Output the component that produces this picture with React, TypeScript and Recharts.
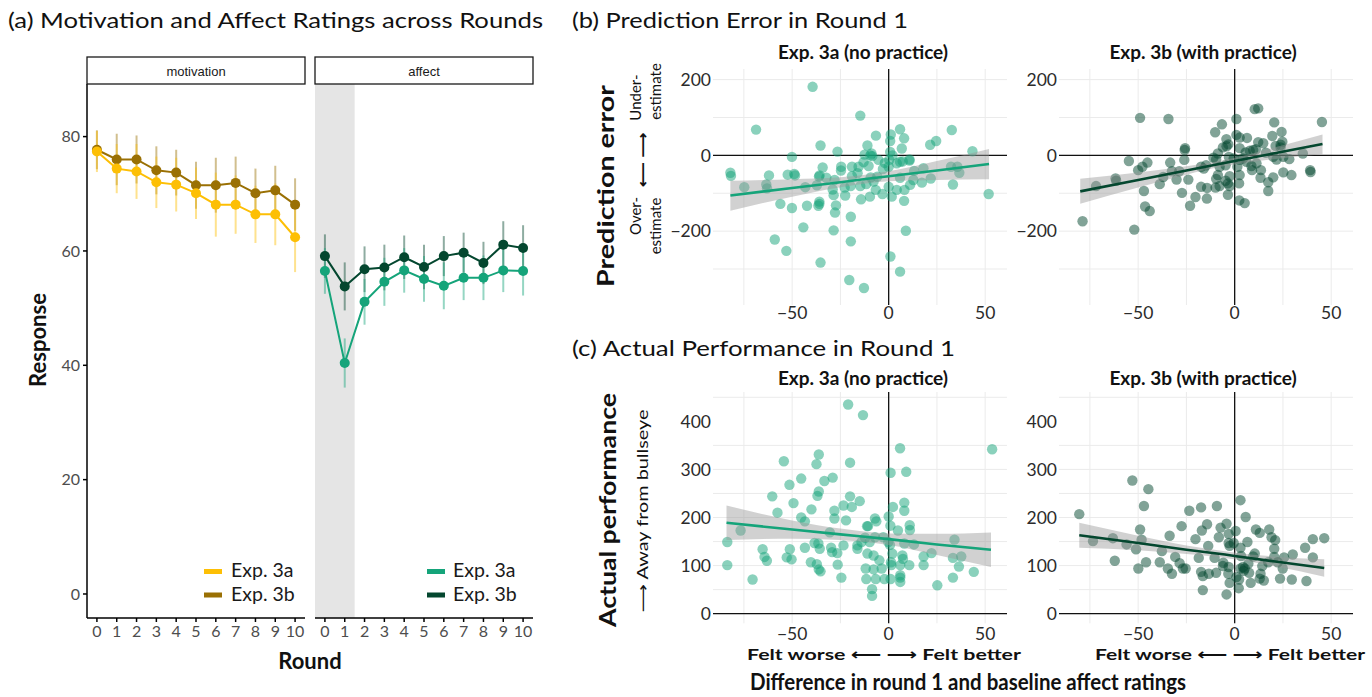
import React from "react";
import {
  ComposedChart,
  LineChart,
  Line,
  Scatter,
  Area,
  XAxis,
  YAxis,
  ErrorBar,
  CartesianGrid,
  ReferenceLine,
  ReferenceArea,
} from "recharts";

const FONT = "Lato, 'Open Sans', 'DejaVu Sans', sans-serif";

const YELLOW = "#FDBF05";
const GOLD = "#9A7004";
const GREEN = "#15A47A";
const DKGREEN = "#04472F";

// ---- (a) ratings across rounds ----
const rounds = [0, 1, 2, 3, 4, 5, 6, 7, 8, 9, 10];
const motivation3a = [77.4, 74.4, 73.9, 72.0, 71.6, 70.1, 68.1, 68.1, 66.4, 66.4, 62.4];
const motivation3aSe = [3.6, 4.3, 4.8, 4.5, 4.7, 4.5, 5.6, 5.1, 5.0, 5.4, 6.1];
const motivation3b = [77.7, 76.0, 76.0, 74.1, 73.7, 71.5, 71.5, 71.9, 70.1, 70.6, 68.1];
const motivation3bSe = [3.4, 4.5, 4.2, 4.2, 4.0, 4.1, 4.8, 4.6, 4.3, 4.3, 4.6];
const affect3a = [56.5, 40.4, 51.1, 54.6, 56.6, 55.1, 53.9, 55.3, 55.3, 56.6, 56.5];
const affect3aSe = [4.0, 4.3, 4.0, 4.2, 3.9, 4.0, 4.1, 3.9, 3.9, 3.8, 4.3];
const affect3b = [59.1, 53.8, 56.8, 57.1, 58.9, 57.2, 59.1, 59.7, 57.9, 61.1, 60.5];
const affect3bSe = [3.8, 4.2, 4.0, 4.0, 3.8, 3.9, 3.5, 3.5, 3.7, 4.1, 4.0];
const responseTicks = [0, 20, 40, 60, 80];

// ---- (b) prediction error vs affect difference ----
const predError3a = [
  [-39.4, 181], [-14.7, 105], [-68.7, 68], [32.7, 67], [5.9, 69], [-6.6, 52], [1.1, 55], [8, 45],
  [0.8, 38], [24.6, 38], [21.5, 28], [6.8, 18], [-35.3, 26], [-26.5, 10], [-11, 26], [-12.5, 2],
  [-8.9, 5], [-8.5, -2], [43.4, 11], [-50.1, -4], [0.8, 9], [-5.3, -12], [10.8, -11], [5.9, -17],
  [0.3, -12], [0, -30], [-82, -46], [-81.7, -54], [-62, -53], [-52.3, -51], [-48.9, -49], [-48.5, -53],
  [-34.2, -32], [-35.8, -53], [-36.1, -56], [-24.6, -30], [-24.7, -40], [-19, -30], [-15.6, -30],
  [-10.4, -28], [-3, -36], [4.2, -21], [7.3, -16], [10.8, -14], [13.2, -41], [18, -34], [32.3, -30],
  [35.6, -30], [36.6, -46], [33.3, -77], [51.8, -102], [-63.4, -77], [-74.8, -84], [-63, -87],
  [-56.1, -128], [-50.1, -139], [-42.3, -133], [-43.2, -84], [-37.2, -79], [-35.9, -122], [-35.9, -128],
  [-36.4, -133], [-32.3, -59], [-28, -65], [-29, -90], [-28.5, -105], [-27.3, -132], [-27.8, -151],
  [-22.5, -106], [-22.8, -85], [-19.7, -81], [-19, -55], [-16.1, -47], [-14.7, -81], [-14.3, -116],
  [-11.6, -76], [-9.7, -109], [-9.3, -58], [-7.8, -69], [-6.7, -91], [-5.9, -56], [-3.2, -102],
  [0, -83], [1.6, -109], [4.2, -91], [5.9, -59], [8.2, -91], [8, -120], [11.1, -78], [12.8, -65],
  [17.2, -72], [21.8, -61], [-44.2, -190], [-59, -222], [-53, -252], [-19.6, -162], [-19.6, -227],
  [-28.5, -198], [8.9, -199], [0.9, -267], [5.9, -307], [-35.3, -283], [-20.4, -329], [-12.8, -350],
  [-9.5, 0], [2, 0], [-2, -20], [-13, -18],
];
const predError3b = [
  [-78.8, -174], [-52, -196], [-49, 99], [-34.3, 96], [10.4, 122], [12.2, 124], [45.2, 88], [0.9, 96],
  [-6.6, 82], [20.5, 87], [-10.1, 61], [24.3, 62], [0.9, 54], [6.4, 46], [-4.3, 43], [19.5, 51],
  [24.7, 36], [2.6, 47], [-3.3, 29], [-4.2, 24], [-25.7, 19], [-25.9, 14], [-6.1, 21], [12.2, 35],
  [14.8, 32], [21.2, 25], [23.8, 28], [23.8, 21], [2.6, 19], [7.8, 12], [5.7, 8], [9.6, 14], [11, 16],
  [16.2, 7], [35.3, 5], [-8.7, 5], [-11, -6], [-9.6, -11], [-3, -4], [-0.5, -8], [2.6, -12], [4.3, -8],
  [6.1, -17], [8.7, -28], [11.3, -21], [20, -4], [21.7, -11], [25.2, -4], [28.3, -10], [-54.8, -15],
  [-45.2, -19], [-26.1, -12], [-33.4, -19], [-47.8, -30], [-50, -39], [-32.5, -42], [-28.7, -42],
  [-17.4, -30], [-16, -35], [-14.8, -26], [-7.8, -30], [-4.7, -26], [1.4, -30], [9, -39], [13.6, -39],
  [2.6, -52], [-8.7, -52], [-2.6, -55], [13.4, -59], [20, -58], [25.2, -45], [29.4, -52], [39.1, -39],
  [39.3, -44], [-61.7, -61], [-61.4, -67], [-71.8, -81], [-37, -57], [-30.1, -64], [-24, -64],
  [-38.8, -76], [-47, -94], [-46.4, -135], [-44, -147], [-27.3, -99], [-20.3, -110], [-23.1, -133],
  [-14.4, -114], [-17.4, -83], [-14.3, -86], [-9.9, -85], [-7.8, -81], [-4.7, -67], [-3.5, -74],
  [-2.6, -81], [2.3, -74], [-9.6, -62], [-3.5, -104], [2.4, -119], [5.2, -126], [17.4, -94], [17.4, -71],
];

// ---- (c) actual performance vs affect difference ----
const perf3a = [
  [-21, 435], [-13.3, 413], [53.6, 342], [5.9, 344], [-54.3, 317], [-36.2, 331], [-37.4, 311], [-20, 314],
  [-29, 283], [1, 293], [9.1, 295], [-45.3, 281], [-33.3, 276], [-51.4, 268], [-36.2, 254], [-36.9, 245],
  [-60.3, 244], [-20, 244], [-49.3, 230], [-15, 234], [-23.4, 225], [-19.1, 222], [2.2, 222], [8.1, 231],
  [8.1, 214], [-28.1, 214], [-57.6, 210], [-40, 217], [0, 202], [-7.1, 198], [-6.4, 192], [-22.1, 194],
  [-45.3, 200], [-43.4, 192], [-28.1, 198], [0.9, 183], [4.8, 173], [10.9, 184], [11, 174], [-11.2, 182],
  [-76.7, 173], [-83.6, 149], [-83.6, 101], [-70.5, 71], [-65.3, 134], [-64.3, 118], [-63.1, 110],
  [-52.8, 117], [-51.2, 134], [-50.3, 113], [-43.4, 137], [-40.3, 107], [-37.2, 103], [-36.2, 92],
  [-35.3, 88], [-38.4, 147], [-36.4, 146], [-35.7, 135], [-29.8, 137], [-29.3, 128], [-30.5, 169],
  [-26.6, 126], [-26.4, 102], [-24.5, 75], [-23.4, 142], [-16.2, 142], [-16.2, 135], [-14.1, 149],
  [-12.2, 158], [-10.7, 182], [-9.8, 149], [-7.1, 159], [-2.8, 159], [-0.2, 149], [0.7, 143], [-11, 125],
  [-7.8, 121], [-4.8, 111], [-11.9, 94], [-7.8, 92], [-3.6, 94], [-11.6, 72], [-6.7, 72], [-2.2, 72],
  [1, 72], [-8.6, 51], [-8.6, 37], [1.9, 125], [7.1, 121], [1.2, 107], [1.4, 101], [6, 101], [7.4, 114],
  [10.7, 101], [8.1, 146], [13.1, 144], [6, 80], [6, 75], [6, 66], [18.1, 119], [18.1, 101], [22.2, 126],
  [25.2, 59], [33.3, 116], [34.1, 154], [37.6, 119], [36.4, 98], [33.3, 75], [44.1, 87],
];
const perf3b = [
  [-80.5, 207], [-73.4, 151], [-63.1, 157], [-62.1, 110], [-56, 144], [-53, 277], [-44.7, 259], [-47, 224],
  [-49, 175], [-48.2, 154], [-51.1, 134], [-49.9, 94], [-45.9, 107], [-38.8, 107], [-37.7, 130],
  [-33.7, 162], [-34.6, 94], [-32.5, 83], [-30.8, 118], [-27.5, 182], [-28.5, 105], [-26.8, 94],
  [-25.4, 94], [-23.5, 214], [-20.3, 155], [-18.6, 116], [-17.4, 221], [-17, 173], [-17.4, 87],
  [-16.5, 78], [-16.5, 49], [-14.3, 186], [-13.7, 141], [-10.4, 116], [-9.6, 85], [-9.2, 224],
  [-8.2, 159], [-7.3, 179], [-5.9, 106], [-4.2, 40], [-4.2, 187], [-3.1, 166], [-3.1, 147], [-2.6, 141],
  [-3.1, 97], [-3.3, 83], [-2.6, 64], [0.5, 172], [-0.5, 147], [0.9, 76], [2.3, 71], [2.1, 53], [3, 236],
  [3, 137], [3.3, 120], [3, 94], [5.2, 94], [5.7, 201], [6.6, 149], [7.1, 104], [7.5, 85], [8.3, 64],
  [9.6, 119], [10.4, 125], [11, 175], [13, 168], [13.4, 83], [13, 73], [15.1, 69], [14.3, 99], [17.4, 107],
  [17.9, 175], [19.1, 159], [20.5, 135], [21, 153], [20.5, 118], [22.3, 107], [23.5, 73], [24.9, 94],
  [25.6, 117], [29.6, 71], [30.1, 123], [36.5, 137], [37.2, 68], [40.5, 155], [40.5, 117], [46.4, 157],
  [-6.1, 99], [4.3, 97], [4.7, 89], [-13.4, 83],
];

// fitted lines with their grey confidence bands, read at a few x positions
const predBand3aX = [-82, -50, -25, -10, 0, 25, 52];
const predBand3aFit = [-106, -86, -71, -61, -55, -40, -23];
const predBand3aLo = [-146, -109, -84, -73, -68, -65, -63];
const predBand3aHi = [-67, -63, -58, -50, -42, -15, 17];

const predBand3bX = [-80, -50, -25, -8, 0, 20, 45.5];
const predBand3bFit = [-95, -65, -40, -23, -15, 5, 30];
const predBand3bLo = [-128, -85, -51, -31, -24, -10, 3];
const predBand3bHi = [-62, -45, -29, -15, -6, 20, 55];

const perfBand3aX = [-84, -50, -25, -15, 0, 25, 53];
const perfBand3aFit = [189, 175, 165, 161, 155, 144, 133];
const perfBand3aLo = [153, 156, 153, 150, 143, 122, 97];
const perfBand3aHi = [225, 194, 177, 172, 167, 166, 169];

const perfBand3bX = [-80.5, -50, -25, -5, 0, 20, 46.4];
const perfBand3bFit = [163, 147, 133, 123, 120, 109, 95];
const perfBand3bLo = [137, 132, 124, 116, 113, 99, 77];
const perfBand3bHi = [189, 162, 142, 130, 127, 119, 113];

const diffTicks = [-50, 0, 50];
const diffGrid = [-75, -50, -25, 0, 25, 50];
const predTicks = [-200, 0, 200];
const predGrid = [-300, -200, -100, 0, 100, 200];
const perfTicks = [0, 100, 200, 300, 400];
const perfGrid = [0, 50, 100, 150, 200, 250, 300, 350, 400, 450];

const toPoints = (arr: number[][]) => arr.map(([x, y]) => ({ x, y }));
const toBand = (xs: number[], fit: number[], lo: number[], hi: number[]) =>
  xs.map((x, i) => ({ x, fit: fit[i], range: [lo[i], hi[i]] }));

const minus = (v: number) => String(v).replace("-", "\u2212");

function RatingPanel({ left, rows, c1, c2, showY, shade }: any) {
  const yW = showY ? 87 : 0;
  return (
    <div style={{ position: "absolute", left: left - yW, top: 84 }}>
      <LineChart width={yW + 218} height={534 + 40} data={rows} margin={{ top: 0, right: 0, bottom: 0, left: 0 }}>
        {shade && <ReferenceArea x1={-0.5} x2={1.5} fill="#E5E5E5" fillOpacity={1} stroke="none" />}
        <XAxis
          type="number"
          dataKey="round"
          domain={[-0.5, 10.5]}
          ticks={rounds}
          interval={0}
          allowDataOverflow
          height={40}
          stroke="#000"
          strokeWidth={1.5}
          tickSize={4}
          tickMargin={4}
          tick={{ fill: "#4D4D4D", fontSize: 16, fontFamily: FONT }}
        />
        <YAxis
          type="number"
          domain={[-4.2, 89.2]}
          ticks={responseTicks}
          allowDataOverflow
          hide={!showY}
          width={yW}
          stroke="#000"
          strokeWidth={1.5}
          tickSize={4}
          tickMargin={3}
          tick={{ fill: "#4D4D4D", fontSize: 16, fontFamily: FONT }}
        />
        <Line dataKey="b" stroke={c2} strokeWidth={2} dot={{ r: 5, fill: c2, stroke: "none" }} activeDot={false} isAnimationActive={false}>
          <ErrorBar dataKey="bErr" width={0} stroke={c2} strokeOpacity={0.45} strokeWidth={2} direction="y" />
        </Line>
        <Line dataKey="a" stroke={c1} strokeWidth={2} dot={{ r: 5, fill: c1, stroke: "none" }} activeDot={false} isAnimationActive={false}>
          <ErrorBar dataKey="aErr" width={0} stroke={c1} strokeOpacity={0.45} strokeWidth={2} direction="y" />
        </Line>
      </LineChart>
    </div>
  );
}

function ScatterPanel({ left, top, plotH, yDomain, yTicks, yGrid, points, band, color, xTickMargin }: any) {
  const yW = 52;
  const xH = 28;
  return (
    <div style={{ position: "absolute", left: left - yW, top }}>
      <ComposedChart width={yW + 294} height={plotH + xH} data={band} margin={{ top: 0, right: 0, bottom: 0, left: 0 }}>
        <CartesianGrid stroke="#EBEBEB" strokeWidth={1} verticalValues={diffGrid} horizontalValues={yGrid} />
        <XAxis
          type="number"
          dataKey="x"
          domain={[-91, 61.3]}
          ticks={diffTicks}
          allowDataOverflow
          height={xH}
          axisLine={false}
          tickLine={false}
          tickSize={0}
          tickMargin={xTickMargin}
          tickFormatter={minus}
          tick={{ fill: "#2B2B2B", fontSize: 17.5, fontFamily: FONT }}
        />
        <YAxis
          type="number"
          domain={yDomain}
          ticks={yTicks}
          allowDataOverflow
          width={yW}
          axisLine={false}
          tickLine={false}
          tickSize={0}
          tickMargin={2}
          tickFormatter={minus}
          tick={{ fill: "#2B2B2B", fontSize: 17.5, fontFamily: FONT }}
        />
        <ReferenceLine x={0} stroke="#111" strokeWidth={1.3} />
        <ReferenceLine y={0} stroke="#111" strokeWidth={1.3} />
        <Scatter
          data={points}
          dataKey="y"
          fill={color}
          isAnimationActive={false}
          shape={(p: any) => <circle cx={p.cx} cy={p.cy} r={5.2} fill={color} fillOpacity={0.5} />}
        />
        <Area dataKey="range" type="monotone" fill="#999999" fillOpacity={0.45} stroke="none" isAnimationActive={false} zIndex={700} />
        <Line dataKey="fit" stroke={color} strokeWidth={2.6} dot={false} activeDot={false} isAnimationActive={false} zIndex={800} />
      </ComposedChart>
    </div>
  );
}

const Rot = ({ x, y, children, ...rest }: any) => (
  <text x={x} y={y} transform={`rotate(-90 ${x} ${y})`} textAnchor="middle" dominantBaseline="central" {...rest}>
    {children}
  </text>
);

export default function App() {
  const motivationRows = rounds.map((r, i) => ({
    round: r, a: motivation3a[i], aErr: motivation3aSe[i], b: motivation3b[i], bErr: motivation3bSe[i],
  }));
  const affectRows = rounds.map((r, i) => ({
    round: r, a: affect3a[i], aErr: affect3aSe[i], b: affect3b[i], bErr: affect3bSe[i],
  }));

  return (
    <div style={{ position: "absolute", left: 0, top: 0, width: 1372, height: 697, background: "#fff", fontFamily: FONT }}>
      <RatingPanel left={87} rows={motivationRows} c1={YELLOW} c2={GOLD} showY />
      <RatingPanel left={315} rows={affectRows} c1={GREEN} c2={DKGREEN} shade />

      <ScatterPanel left={713} top={69} plotH={236} yDomain={[-395, 228]} yTicks={predTicks} yGrid={predGrid}
        points={toPoints(predError3a)} band={toBand(predBand3aX, predBand3aFit, predBand3aLo, predBand3aHi)} color={GREEN} xTickMargin={2} />
      <ScatterPanel left={1059} top={69} plotH={236} yDomain={[-395, 228]} yTicks={predTicks} yGrid={predGrid}
        points={toPoints(predError3b)} band={toBand(predBand3bX, predBand3bFit, predBand3bLo, predBand3bHi)} color={DKGREEN} xTickMargin={2} />
      <ScatterPanel left={713} top={391.7} plotH={231.3} yDomain={[-20, 461]} yTicks={perfTicks} yGrid={perfGrid}
        points={toPoints(perf3a)} band={toBand(perfBand3aX, perfBand3aFit, perfBand3aLo, perfBand3aHi)} color={GREEN} xTickMargin={4} />
      <ScatterPanel left={1059} top={391.7} plotH={231.3} yDomain={[-20, 461]} yTicks={perfTicks} yGrid={perfGrid}
        points={toPoints(perf3b)} band={toBand(perfBand3bX, perfBand3bFit, perfBand3bLo, perfBand3bHi)} color={DKGREEN} xTickMargin={4} />

      <svg width={1372} height={697} style={{ position: "absolute", left: 0, top: 0, pointerEvents: "none" }} fontFamily={FONT}>
        {/* panel titles */}
        <text x={8} y={28} fontSize={22} fill="#111" textLength={535} lengthAdjust="spacingAndGlyphs">(a) Motivation and Affect Ratings across Rounds</text>
        <text x={572} y={28} fontSize={22} fill="#111" textLength={336} lengthAdjust="spacingAndGlyphs">(b) Prediction Error in Round 1</text>
        <text x={572} y={356} fontSize={22} fill="#111" textLength={383} lengthAdjust="spacingAndGlyphs">(c) Actual Performance in Round 1</text>

        {/* facet strips for (a) */}
        <rect x={87} y={57} width={218} height={27} fill="#fff" stroke="#1a1a1a" strokeWidth={1.3} />
        <rect x={315} y={57} width={218} height={27} fill="#fff" stroke="#1a1a1a" strokeWidth={1.3} />
        <text x={196} y={71} fontSize={13} fontFamily="'Liberation Sans', Arial, sans-serif" fill="#1a1a1a" textAnchor="middle" dominantBaseline="central">motivation</text>
        <text x={424} y={71} fontSize={13} fontFamily="'Liberation Sans', Arial, sans-serif" fill="#1a1a1a" textAnchor="middle" dominantBaseline="central">affect</text>

        {/* (a) axis titles */}
        <Rot x={37} y={340} fontSize={22} fontWeight={700} fill="#111">Response</Rot>
        <text x={310} y={669} fontSize={22} fontWeight={700} fill="#111" textAnchor="middle">Round</text>

        {/* (a) legends */}
        <rect x={204} y={569} width={18} height={5} fill={YELLOW} />
        <text x={231} y={577} fontSize={19.5} fill="#1a1a1a">Exp. 3a</text>
        <rect x={204} y={592.5} width={18} height={5} fill={GOLD} />
        <text x={231} y={601} fontSize={19.5} fill="#1a1a1a">Exp. 3b</text>
        <rect x={427} y={569} width={18} height={5} fill={GREEN} />
        <text x={453} y={577} fontSize={19.5} fill="#1a1a1a">Exp. 3a</text>
        <rect x={427} y={592.5} width={18} height={5} fill={DKGREEN} />
        <text x={453} y={601} fontSize={19.5} fill="#1a1a1a">Exp. 3b</text>

        {/* facet titles (b), (c) */}
        <text x={863} y={59} fontSize={19} fontWeight={700} fill="#111" textAnchor="middle">Exp. 3a (no practice)</text>
        <text x={1203} y={59} fontSize={19} fontWeight={700} fill="#111" textAnchor="middle">Exp. 3b (with practice)</text>
        <text x={863} y={385} fontSize={19} fontWeight={700} fill="#111" textAnchor="middle">Exp. 3a (no practice)</text>
        <text x={1203} y={385} fontSize={19} fontWeight={700} fill="#111" textAnchor="middle">Exp. 3b (with practice)</text>

        {/* (b) y title */}
        <Rot x={605} y={186} fontSize={22} fontWeight={700} fill="#111" textLength={202} lengthAdjust="spacingAndGlyphs">Prediction error</Rot>
        <Rot x={635} y={97.5} fontSize={15} fill="#111">Under-</Rot>
        <Rot x={655} y={91.5} fontSize={15} fill="#111">estimate</Rot>
        <Rot x={642} y={160} fontSize={15} fontWeight={700} fill="#111" textLength={55} lengthAdjust="spacingAndGlyphs">{"\u27F5 \u27F6"}</Rot>
        <Rot x={635} y={216} fontSize={15} fill="#111">Over-</Rot>
        <Rot x={655} y={226} fontSize={15} fill="#111">estimate</Rot>

        {/* (c) y title */}
        <Rot x={607} y={510} fontSize={22} fontWeight={700} fill="#111" textLength={234} lengthAdjust="spacingAndGlyphs">Actual performance</Rot>
        <Rot x={642} y={511} fontSize={15} fill="#111" textLength={203} lengthAdjust="spacingAndGlyphs">{"\u27F6 Away from bullseye"}</Rot>

        {/* shared x titles */}
        <text x={884} y={660} fontSize={16} fontWeight={700} fill="#111" textAnchor="middle" textLength={274} lengthAdjust="spacingAndGlyphs">{"Felt worse \u27F5 \u27F6 Felt better"}</text>
        <text x={1230} y={660} fontSize={16} fontWeight={700} fill="#111" textAnchor="middle" textLength={270} lengthAdjust="spacingAndGlyphs">{"Felt worse \u27F5 \u27F6 Felt better"}</text>
        <text x={968} y={690} fontSize={22} fontWeight={700} fill="#111" textAnchor="middle" textLength={436} lengthAdjust="spacingAndGlyphs">Difference in round 1 and baseline affect ratings</text>
      </svg>
    </div>
  );
}
